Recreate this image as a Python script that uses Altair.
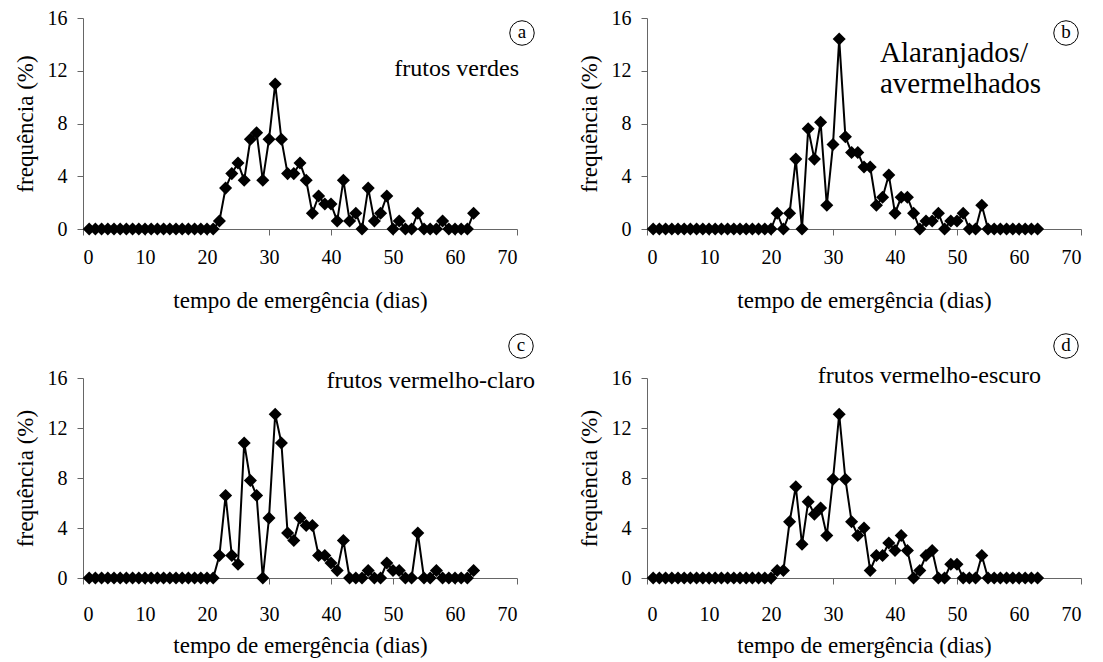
import altair as alt
import pandas as pd

days = list(range(1, 64))

freq_a = [0]*21 + [0.6, 3.1, 4.2, 5.0, 3.7, 6.8, 7.3, 3.7, 6.8, 11.0, 6.8, 4.2, 4.2, 5.0, 3.7,
                   1.2, 2.5, 1.9, 1.9, 0.6, 3.7, 0.6, 1.2, 0, 3.1, 0.6, 1.2, 2.5, 0, 0.6,
                   0, 0, 1.2, 0, 0, 0, 0.6, 0, 0, 0, 0, 1.2]
freq_b = [0]*20 + [1.2, 0, 1.2, 5.3, 0, 7.6, 5.3, 8.1, 1.8, 6.4, 14.4, 7.0, 5.8, 5.8, 4.7, 4.7,
                   1.8, 2.4, 4.1, 1.2, 2.4, 2.4, 1.2, 0, 0.6, 0.6, 1.2, 0, 0.6, 0.6, 1.2,
                   0, 0, 1.8, 0, 0, 0, 0, 0, 0, 0, 0, 0]
freq_c = [0]*21 + [1.8, 6.6, 1.8, 1.1, 10.8, 7.8, 6.6, 0, 4.8, 13.1, 10.8, 3.6, 3.0, 4.8, 4.2,
                   4.2, 1.8, 1.8, 1.2, 0.6, 3.0, 0, 0, 0, 0.6, 0, 0, 1.2, 0.6, 0.6,
                   0, 0, 3.6, 0, 0, 0.6, 0, 0, 0, 0, 0, 0.6]
freq_d = [0]*20 + [0.6, 0.6, 4.5, 7.3, 2.7, 6.1, 5.1, 5.6, 3.4, 7.9, 13.1, 7.9, 4.5, 3.4, 4.0,
                   0.6, 1.8, 1.8, 2.8, 2.2, 3.4, 2.2, 0, 0.6, 1.8, 2.2, 0, 0, 1.1, 1.1,
                   0, 0, 0, 1.8, 0, 0, 0, 0, 0, 0, 0, 0, 0]

x_ticks = [0, 10, 20, 30, 40, 50, 60, 70]
y_ticks = [0, 4, 8, 12, 16]
x_title = "tempo de emergência (dias)"
y_title = "frequência (%)"

panel_letters = ["a", "b", "c", "d"]
panel_texts = [["frutos verdes"], ["Alaranjados/", "avermelhados"],
               ["frutos vermelho-claro"], ["frutos vermelho-escuro"]]

FONT = "Liberation Serif"
W = 434


def panel(vals, h, lab_pad, title_pad, letter, texts, circ_xy, text_cfg):
    df = pd.DataFrame({"dia": days, "freq": vals})
    x = alt.X("dia:Q", scale=alt.Scale(domain=[0, 70], nice=False),
              axis=alt.Axis(values=x_ticks, title=x_title, labelPadding=lab_pad,
                            titlePadding=title_pad))
    y = alt.Y("freq:Q", scale=alt.Scale(domain=[0, 16], nice=False),
              axis=alt.Axis(values=y_ticks, title=y_title, labelPadding=10, titlePadding=10))
    line = alt.Chart(df).mark_line(color="black", strokeWidth=2).encode(x=x, y=y)
    pts = alt.Chart(df).mark_point(shape="diamond", filled=True, size=170, color="black",
                                   opacity=1).encode(x=x, y=y)
    cx, cy = circ_xy
    cdf = pd.DataFrame({"l": [letter]})
    circ = alt.Chart(cdf).mark_point(shape="circle", filled=False, size=600, color="black",
                                     strokeWidth=1, opacity=1).encode(
        x=alt.value(cx), y=alt.value(cy))
    let = alt.Chart(cdf).mark_text(font=FONT, fontSize=19, color="black", align="center",
                                   baseline="middle", dy=-1).encode(
        x=alt.value(cx), y=alt.value(cy), text="l:N")
    layers = [line, pts, circ, let]
    tx, ty, align, fs, lh = text_cfg
    for i, t in enumerate(texts):
        tdf = pd.DataFrame({"t": [t]})
        layers.append(alt.Chart(tdf).mark_text(font=FONT, fontSize=fs, color="black",
                                               align=align, baseline="middle").encode(
            x=alt.value(tx), y=alt.value(ty + i * lh), text="t:N"))
    return alt.layer(*layers).properties(width=W, height=h)


pa = panel(freq_a, 211, 12, 22, panel_letters[0], panel_texts[0], (439, 15),
           (436, 51, "right", 24, 0))
pb = panel(freq_b, 211, 12, 22, panel_letters[1], panel_texts[1], (419, 15),
           (233, 35, "left", 29, 31))
pc = panel(freq_c, 200, 20, 10, panel_letters[2], panel_texts[2], (438, -32),
           (452, 3, "right", 24, 0))
pd_ = panel(freq_d, 200, 20, 10, panel_letters[3], panel_texts[3], (419, -32),
            (394, -2, "right", 24, 0))

chart = alt.concat(pa, pb, pc, pd_, columns=2, spacing={"row": 149, "column": 130},
                   bounds="flush").properties(
    padding={"left": 6, "top": 0, "right": 5, "bottom": 5}
).configure_view(stroke=None).configure_axis(
    grid=False, labelFont=FONT, titleFont=FONT, labelFontSize=20, titleFontSize=23,
    labelColor="black", titleColor="black", titleFontWeight="normal",
    domainColor="#666", tickColor="#666", tickSize=6, domainWidth=1, tickWidth=1
)

chart.save("out.html", embed_options={"renderer": "svg", "actions": False})
